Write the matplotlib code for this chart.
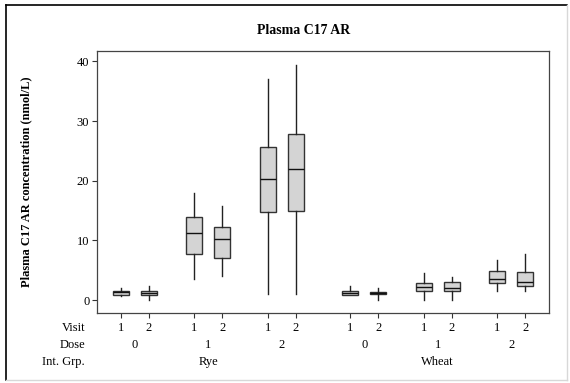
import matplotlib
matplotlib.use("Agg")
import matplotlib.pyplot as plt
from matplotlib.lines import Line2D

# ======================
# data
# ======================
visits = ["1", "2"] * 6
doses = ["0", "1", "2", "0", "1", "2"]
groups = ["Rye", "Wheat"]

whis_lo = [0.7, 0.1, 3.5, 4.0, 1.0, 1.0, 0.8, 0.1, 0.1, 0.1, 1.6, 1.6]
q1 = [0.9, 0.9, 7.8, 7.1, 14.8, 14.9, 0.9, 0.95, 1.6, 1.6, 2.9, 2.4]
medians = [1.3, 1.25, 11.2, 10.3, 20.3, 22.0, 1.2, 1.15, 2.2, 2.1, 3.6, 3.1]
q3 = [1.6, 1.6, 13.9, 12.2, 25.6, 27.9, 1.5, 1.4, 2.8, 3.1, 4.9, 4.7]
whis_hi = [2.0, 2.3, 17.9, 15.7, 37.1, 39.4, 2.3, 2.1, 4.5, 3.9, 6.8, 7.8]

# x positions: pair gap 1, dose gap 1.625, group gap 2.95
pair_starts = [0, 2.625, 5.25, 8.2, 10.825, 13.45]
positions = []
for s in pair_starts:
    positions += [s, s + 1]

stats = []
for i in range(len(medians)):
    stats.append({"whislo": whis_lo[i], "q1": q1[i], "med": medians[i],
                  "q3": q3[i], "whishi": whis_hi[i]})

plt.rcParams["font.family"] = ["Liberation Serif", "DejaVu Serif"]

fig = plt.figure(figsize=(5.7, 3.83), dpi=100)
ax = fig.add_axes([0.170, 0.182, 0.793, 0.686])

ax.bxp(stats, positions=positions, widths=0.56, showcaps=False,
       showfliers=False, patch_artist=True,
       boxprops=dict(facecolor="#d4d4d4", edgecolor="#333333", linewidth=1.0),
       medianprops=dict(color="#111111", linewidth=1.0),
       whiskerprops=dict(color="#222222", linewidth=1.0))

ax.set_xlim(-0.857, 15.3)
ax.set_ylim(-2.2, 41.8)
ax.set_yticks([0, 10, 20, 30, 40])
ax.set_xticks(positions)
ax.set_xticklabels(visits)
ax.tick_params(axis="both", labelsize=9, length=3.5, width=0.8, pad=2,
               color="#333333")
ax.tick_params(axis="x", pad=3)
for sp in ax.spines.values():
    sp.set_color("#444444")
    sp.set_linewidth(0.9)

ax.set_ylabel("Plasma C17 AR concentration (nmol/L)", fontsize=9,
              fontweight="bold")
ax.yaxis.set_label_coords(-0.142, 0.5)

# title
fig.text(304 / 570, 1 - 31 / 383, "Plasma C17 AR", ha="center", va="center",
         fontsize=10, fontweight="bold")

# extra rows under the x axis
row_y = [1 - 327.7 / 383, 1 - 345 / 383, 1 - 361.7 / 383]
for label, y in zip(["Visit", "Dose", "Int. Grp."], row_y):
    fig.text(85 / 570, y, label, ha="right", va="center", fontsize=9)

for k, s in enumerate(pair_starts):
    xd = ax.transData.transform((s + 0.5, 0))[0] / fig.bbox.width
    fig.text(xd, row_y[1], doses[k], ha="center", va="center", fontsize=9)

for g, s in zip(groups, [pair_starts[1], pair_starts[4]]):
    xd = ax.transData.transform((s + 0.5, 0))[0] / fig.bbox.width
    fig.text(xd, row_y[2], g, ha="center", va="center", fontsize=9)

# outer frame
W, H = 570, 383
fig.add_artist(Line2D([6 / W, 567 / W], [1 - 5 / H, 1 - 5 / H],
                      transform=fig.transFigure, color="black", linewidth=1.2))
fig.add_artist(Line2D([6 / W, 6 / W], [1 - 5 / H, 1 - 380 / H],
                      transform=fig.transFigure, color="black", linewidth=1.2))
fig.add_artist(Line2D([6 / W, 567 / W], [1 - 380 / H, 1 - 380 / H],
                      transform=fig.transFigure, color="#d8d8d8", linewidth=1.0))
fig.add_artist(Line2D([567 / W, 567 / W], [1 - 5 / H, 1 - 380 / H],
                      transform=fig.transFigure, color="#d8d8d8", linewidth=1.0))

fig.savefig("out.png", dpi=100)
